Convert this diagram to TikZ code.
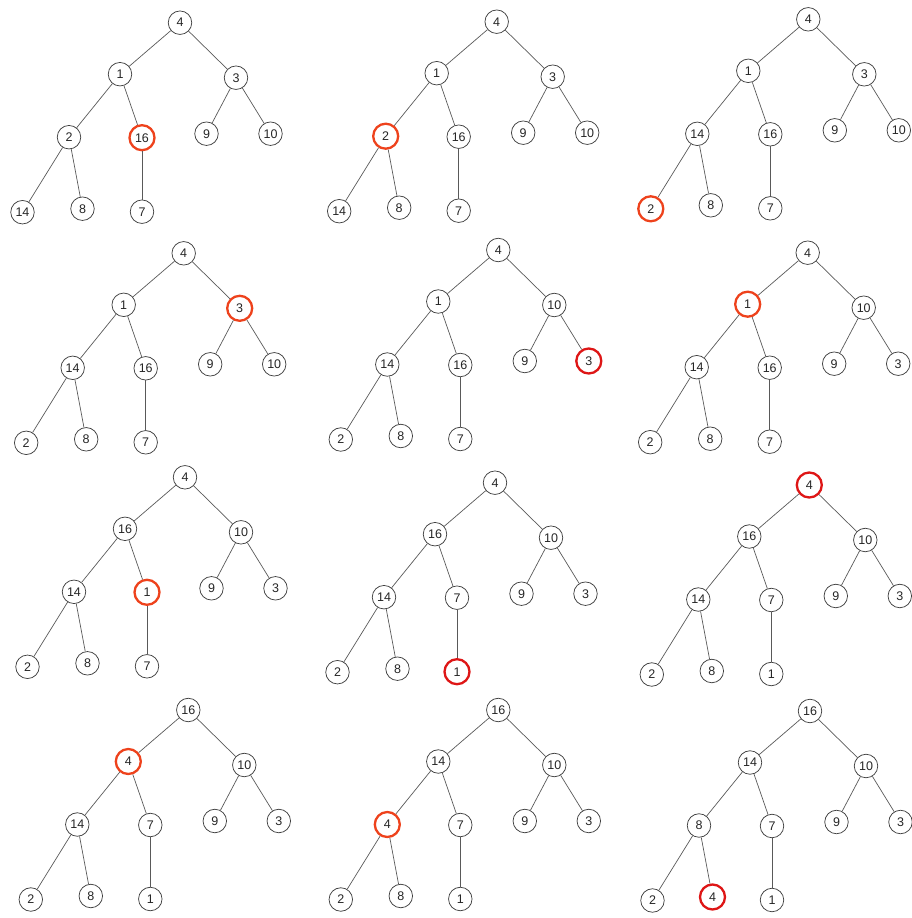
\documentclass[tikz,border=0pt]{standalone}
\usepackage{fontspec}
\setmainfont{Liberation Sans}
\definecolor{hlorange}{RGB}{238,66,28}
\definecolor{hlred}{RGB}{222,22,22}
\tikzset{
  heapnode/.style={circle, draw=black!75, line width=0.75pt, fill=white,
    minimum size=23.5pt, inner sep=0pt, text=black!85,
    font=\fontsize{12.5}{14}\selectfont},
  heapedge/.style={draw=black!65, line width=0.7pt}
}
\begin{document}
\begin{tikzpicture}[x=1pt, y=-1pt]
    \useasboundingbox (0,0) rectangle (911,918);
    % Desplazamientos de cada posicion del monticulo respecto a la raiz
    \def\offx{{0,-60,56,-111,-38,26.5,90.5,-157.5,-97.5,-38}}
    \def\offy{{0,51.5,55,114.5,115,111,111,189.5,186,189}}
    % Un arbol por paso: raiz, valores, nodo resaltado y su color
    \foreach \k/\px/\py/\vals/\hi/\hc in {
        1/180/22.7/{4,1,3,2,16,9,10,14,8,7}/5/hlorange,
        2/496.7/21.7/{4,1,3,2,16,9,10,14,8,7}/4/hlorange,
        3/808.3/19.3/{4,1,3,14,16,9,10,2,8,7}/8/hlorange,
        4/183.7/253.3/{4,1,3,14,16,9,10,2,8,7}/3/hlorange,
        5/498.3/250/{4,1,10,14,16,9,3,2,8,7}/7/hlred,
        6/807.7/252.7/{4,1,10,14,16,9,3,2,8,7}/2/hlorange,
        7/185/477.3/{4,16,10,14,1,9,3,2,8,7}/5/hlorange,
        8/495/482.7/{4,16,10,14,7,9,3,2,8,1}/10/hlred,
        9/809.3/485/{4,16,10,14,7,9,3,2,8,1}/1/hlred,
        10/188.3/710/{16,4,10,14,7,9,3,2,8,1}/2/hlorange,
        11/498.3/710/{16,14,10,4,7,9,3,2,8,1}/4/hlorange,
        12/810/711/{16,14,10,8,7,9,3,2,4,1}/9/hlred} {
      % Nodos
      \foreach \v [count=\i] in \vals {
        \ifnum\i=\hi\relax
          \def\rc{\hc}\def\rw{2.3pt}\def\rs{25pt}
        \else
          \def\rc{black!75}\def\rw{0.75pt}\def\rs{23.5pt}
        \fi
        \pgfmathsetmacro\nx{\px+\offx[\i-1]}
        \pgfmathsetmacro\ny{\py+\offy[\i-1]}
        \node[heapnode, draw=\rc, line width=\rw, minimum size=\rs]
          (p\k-n\i) at (\nx,\ny) {\v};
      }
      % Aristas padre-hijo
      \foreach \a/\b in {1/2,1/3,2/4,2/5,3/6,3/7,4/8,4/9,5/10}
        \draw[heapedge] (p\k-n\a) -- (p\k-n\b);
    }
\end{tikzpicture}
\end{document}
